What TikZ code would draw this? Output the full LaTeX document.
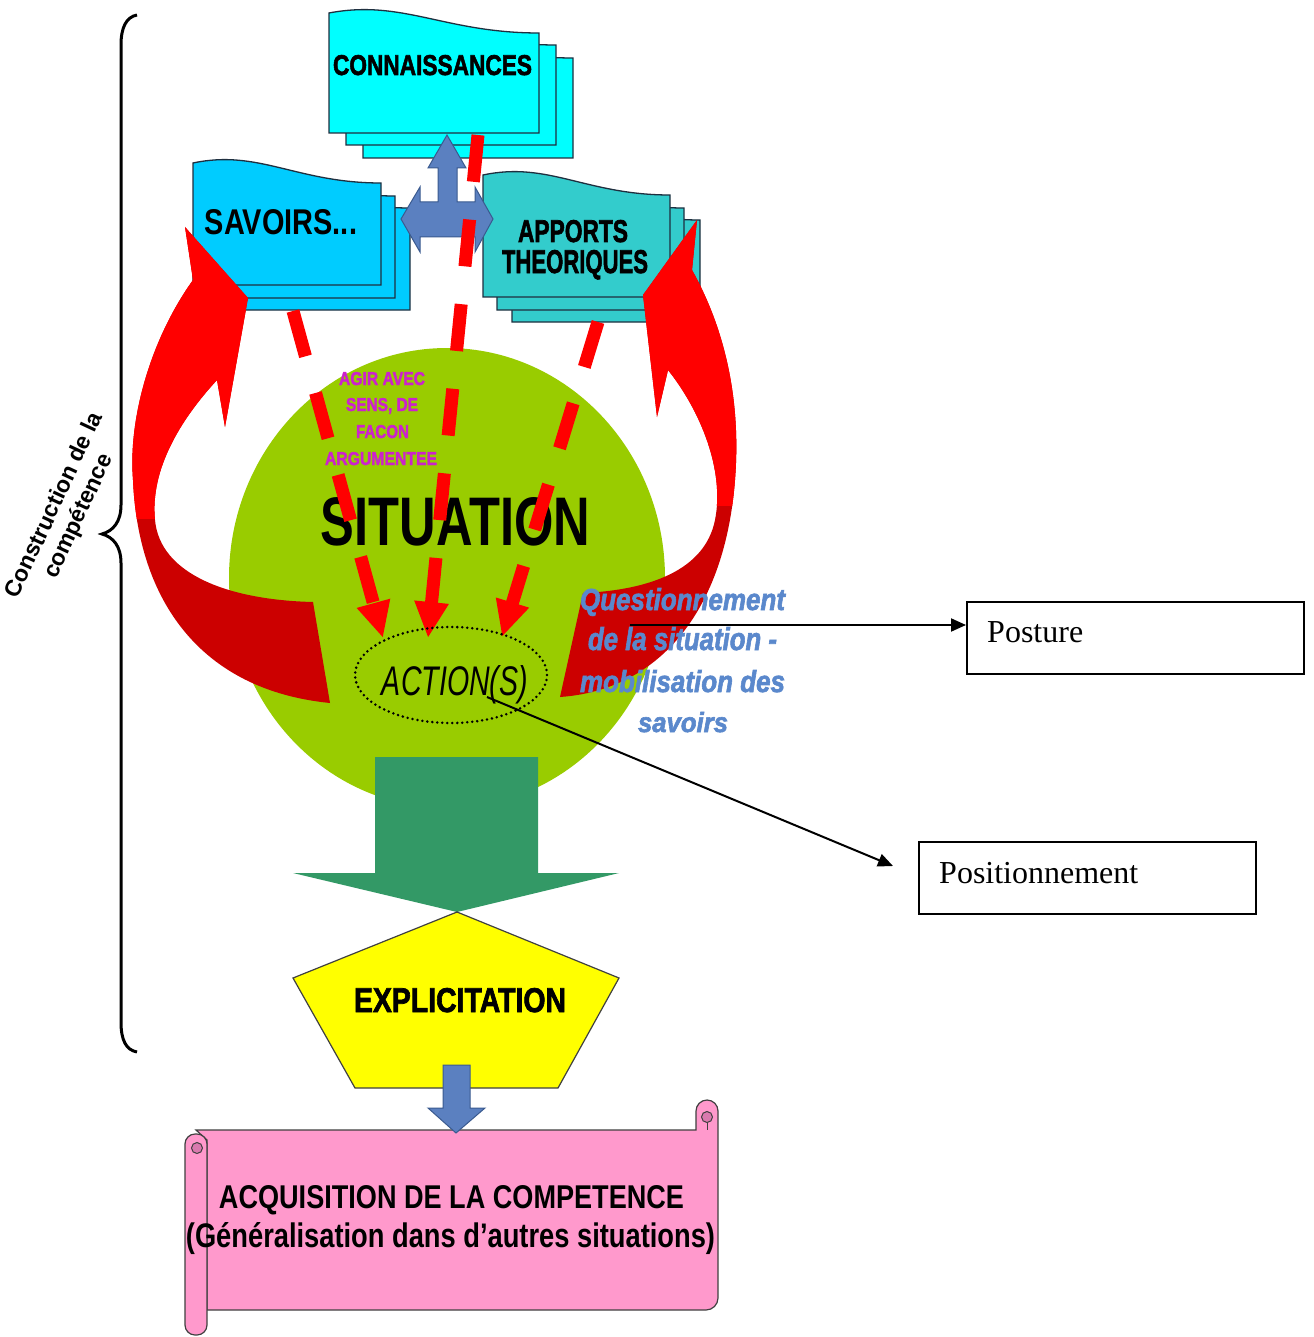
\documentclass[tikz,border=0pt]{standalone}
\usepackage{fontspec}
\usepackage{graphicx}
\setmainfont{Liberation Sans}
\newfontfamily\tnrfont{Liberation Serif}
\newfontfamily\heavyfont[FakeBold=2.2]{Liberation Sans}
\usetikzlibrary{arrows.meta,shapes.geometric}

\definecolor{cyanA}{HTML}{00FFFF}
\definecolor{blueS}{HTML}{00CCFF}
\definecolor{tealA}{HTML}{33CCCC}
\definecolor{docline}{HTML}{1F2F3F}
\definecolor{greenC}{HTML}{99CC00}
\definecolor{greenArr}{HTML}{339966}
\definecolor{redL}{HTML}{FF0000}
\definecolor{redD}{HTML}{CC0000}
\definecolor{steel}{HTML}{5B80C0}
\definecolor{steelD}{HTML}{3A5A8F}
\definecolor{magentaT}{HTML}{CC22CC}
\definecolor{blueT}{HTML}{5A88CC}
\definecolor{pinkB}{HTML}{FF99CC}
\definecolor{pinkD}{HTML}{D97AAE}
\definecolor{yellowP}{HTML}{FFFF00}
\definecolor{bline}{HTML}{404040}

\newcommand{\fitt}[3]{\resizebox{#1pt}{#2pt}{#3}}
\newcommand{\docshape}[6]{%
  \filldraw[fill=#6, draw=docline, line width=1.3pt]
    (#1,#4) -- (#1,#2) .. controls ({#1+0.35*(#3-#1)},{#2-14}) and ({#1+0.55*(#3-#1)},{#2+#5}) .. (#3,{#2+#5}) -- (#3,#4) -- cycle;}

\tikzset{
  txt/.style={anchor=base, inner sep=0pt, outer sep=0pt},
  conn/.style={draw=black, line width=2pt, -{Triangle[length=15pt,width=13pt]}},
  dasharr/.style={draw=redL, line width=13pt, dash pattern=on 47pt off 38pt, -{Triangle[length=36pt,width=32pt]}},
  ribL/.style={insert path={(185,227) -- (248,298) -- (225,427) -- (217,380) .. controls (180,420) and (150,470) .. (155,520) .. controls (160,575) and (230,600) .. (313,602) -- (330,703) .. controls (200,690) and (138,600) .. (133,480) .. controls (128,420) and (150,340) .. (193,280) -- cycle}},
  ribR/.style={insert path={(697,220) -- (643,295) -- (657,417) -- (668,370) .. controls (700,410) and (725,470) .. (715,520) .. controls (705,570) and (650,590) .. (583,593) -- (560,697) .. controls (660,690) and (725,610) .. (735,480) .. controls (742,390) and (720,320) .. (692,270) -- cycle}},
  labbox/.style={draw=black, line width=1.5pt, anchor=north west, inner sep=0pt, minimum height=72pt}
}

\begin{document}
\begin{tikzpicture}[x=1pt, y=-1pt]
\useasboundingbox (0,0) rectangle (1313,1337);
\fill[white] (0,0) rectangle (1313,1337);

% brace and its label
\draw[line width=3pt] (137,15) .. controls (126,17) and (121,28) .. (121,45) -- (121,505) .. controls (121,522) and (113,531) .. (102,534) .. controls (113,537) and (121,546) .. (121,563) -- (121,1022) .. controls (121,1040) and (126,1050) .. (137,1052);
\node[rotate=65, align=center, font=\bfseries\fontsize{23}{26.5}\selectfont, inner sep=0pt] (constr) at (67,511) {Construction de la\\compétence};

% document stacks
\docshape{363}{38}{573}{158}{20}{cyanA}
\docshape{346}{25}{556}{145}{20}{cyanA}
\docshape{329}{13}{539}{133}{20}{cyanA}
\docshape{222}{188}{410}{310}{20}{blueS}
\docshape{207}{176}{395}{298}{20}{blueS}
\docshape{193}{163}{381}{285}{20}{blueS}
\docshape{512}{200}{700}{322}{20}{tealA}
\docshape{497}{188}{684}{310}{20}{tealA}
\docshape{483}{175}{670}{297}{20}{tealA}
\node[txt] (tcon) at (432.5,75) {\fitt{199}{20}{\heavyfont\bfseries CONNAISSANCES}};
\node[txt] (tsav) at (281,235) {\fitt{152}{25}{\bfseries SAVOIRS...}};
\node[txt] (tapp) at (573,242) {\fitt{110}{22}{\heavyfont\bfseries APPORTS}};
\node[txt] (tthe) at (575,273) {\fitt{146}{23}{\heavyfont\bfseries THEORIQUES}};

% blue three-way arrow
\filldraw[fill=steel, draw=steelD, line width=1pt] (447,135) -- (466,168) -- (457,168) -- (457,202) -- (475,202) -- (475,187) -- (493,219) -- (475,252) -- (475,237) -- (420,237) -- (420,252) -- (401,219) -- (420,187) -- (420,202) -- (438,202) -- (438,168) -- (428,168) -- cycle;

% situation circle
\node[ellipse, fill=greenC, minimum width=436pt, minimum height=460pt, inner sep=0pt] (sit) at (447,578) {};

% big green arrow
\fill[greenArr] (375,757) -- (538,757) -- (538,873) -- (619,873) -- (457,912) -- (293,873) -- (375,873) -- cycle;

% red ribbons
\fill[redD, ribL];
\fill[redD, ribR];
\begin{scope}
  \clip (0,0) rectangle (700,518);
  \fill[redL, ribL];
\end{scope}
\begin{scope}
  \clip (560,0) rectangle (800,505);
  \fill[redL, ribR];
\end{scope}

% texts in circle
\node[txt, text=magentaT] (ag1) at (382,385) {\fitt{86}{13}{\heavyfont\bfseries AGIR AVEC}};
\node[txt, text=magentaT] (ag2) at (382,411) {\fitt{72}{13}{\heavyfont\bfseries SENS, DE}};
\node[txt, text=magentaT] (ag3) at (382.5,438) {\fitt{53}{13}{\heavyfont\bfseries FACON}};
\node[txt, text=magentaT] (ag4) at (381,465) {\fitt{112}{13}{\heavyfont\bfseries ARGUMENTEE}};
\node[txt] (tsit) at (455.5,545) {\fitt{269}{48}{\bfseries SITUATION}};

% dashed red arrows
\coordinate (savB) at (293,311);
\coordinate (conB) at (478,135);
\coordinate (appB) at (598,322);
\coordinate (tipL) at (383,638);
\coordinate (tipM) at (428,638);
\coordinate (tipR) at (502,637);
\draw[dasharr] (savB) -- (tipL);
\draw[dasharr] (conB) -- (tipM);
\draw[dasharr] (appB) -- (tipR);

% actions
\node[ellipse, draw=black, line width=2.8pt, dash pattern=on 0pt off 5pt, line cap=round, minimum width=192pt, minimum height=96pt, inner sep=0pt] (action) at (451,675) {};
\node[txt] (tact) at (455,695) {\fitt{146}{30}{\itshape ACTION(S)}};

% questionnement
\node[txt, text=blueT] (q1) at (682.5,610) {\fitt{205}{22}{\heavyfont\bfseries\itshape Questionnement}};
\node[txt, text=blueT] (q2) at (682.5,650) {\fitt{189}{23}{\heavyfont\bfseries\itshape de la situation -}};
\node[txt, text=blueT] (q3) at (682.5,692) {\fitt{205}{22}{\heavyfont\bfseries\itshape mobilisation des}};
\node[txt, text=blueT] (q4) at (683,732) {\fitt{90}{20}{\heavyfont\bfseries\itshape savoirs}};

% label boxes
\node[labbox, minimum width=337pt] (posture) at (966,601) {};
\node[anchor=base west, inner sep=0pt, font=\tnrfont\fontsize{32}{38}\selectfont] (tpos) at (987,642) {Posture};
\node[labbox, minimum width=337pt] (positionnement) at (918,841) {};
\node[anchor=base west, inner sep=0pt, font=\tnrfont\fontsize{32}{38}\selectfont] (tposi) at (939,883) {Positionnement};

\coordinate (qs) at (630,625);
\draw[conn] (qs) -- (qs -| posture.west);
\coordinate (as) at (487,697);
\coordinate (ae) at (893,866);
\draw[conn] (as) -- (ae);

% explicitation pentagon
\filldraw[fill=yellowP, draw=bline, line width=1.2pt] (457,912) -- (619,978) -- (558,1088) -- (355,1088) -- (293,978) -- cycle;
\node[txt] (texp) at (460,1012) {\fitt{212}{24}{\heavyfont\bfseries EXPLICITATION}};

% scroll banner
\filldraw[fill=pinkB, draw=bline, line width=1.2pt]
  (196,1130) -- (696,1130) -- (696,1111) arc[start angle=180, end angle=360, radius=11] -- (718,1298) arc[start angle=0, end angle=90, radius=12] -- (207,1310) -- (207,1140) -- cycle;
\filldraw[fill=pinkD, draw=bline, line width=1pt] (707,1117) circle (5.5pt);
\draw[bline, line width=1pt] (707,1122) -- (707,1130);
\filldraw[fill=pinkB, draw=bline, line width=1.2pt, rounded corners=10pt] (185,1134) rectangle (207,1335);
\filldraw[fill=pinkD, draw=bline, line width=1pt] (197,1148) circle (5.5pt);
\node[txt] (tacq) at (451.5,1208) {\fitt{465}{23}{\bfseries ACQUISITION DE LA COMPETENCE}};
\node[txt] (tgen) at (450.5,1247) {\fitt{529}{25}{\bfseries (Généralisation dans d’autres situations)}};

% small blue arrow
\filldraw[fill=steel, draw=steelD, line width=1pt] (443,1065) -- (470,1065) -- (470,1108) -- (485,1108) -- (456,1133) -- (428,1108) -- (443,1108) -- cycle;
\end{tikzpicture}
\end{document}
